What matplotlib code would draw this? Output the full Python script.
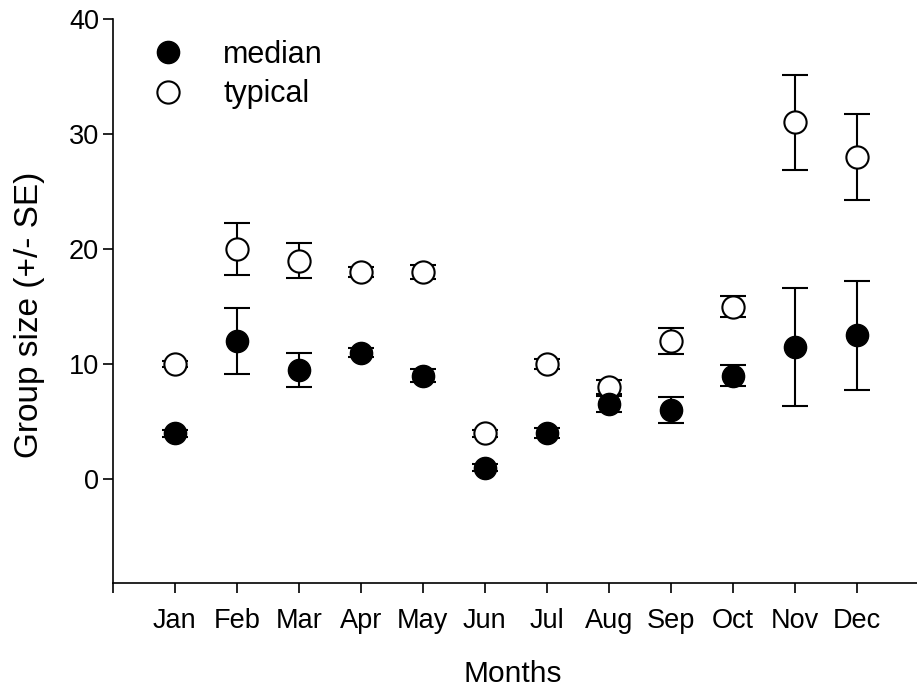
import matplotlib.pyplot as plt
import numpy as np

plt.rcParams['font.family'] = ['Liberation Sans', 'DejaVu Sans']

months = ['Jan', 'Feb', 'Mar', 'Apr', 'May', 'Jun', 'Jul', 'Aug', 'Sep', 'Oct', 'Nov', 'Dec']
median = [4, 12, 9.5, 11, 9, 1, 4, 6.5, 6, 9, 11.5, 12.5]
median_se = [0.3, 2.9, 1.5, 0.4, 0.6, 0.3, 0.4, 0.7, 1.15, 0.95, 5.15, 4.75]
typical = [10, 20, 19, 18, 18, 4, 10, 8, 12, 15, 31, 28]
typical_se = [0.3, 2.3, 1.5, 0.4, 0.6, 0.3, 0.4, 0.6, 1.15, 0.9, 4.1, 3.75]

x = np.arange(1, len(months) + 1)

fig = plt.figure(figsize=(9.17, 6.9), dpi=100)
ax = fig.add_axes([0.123, 0.155, 0.877, 0.8175])

t = ax.errorbar(x, typical, yerr=typical_se, fmt='o', ms=16, mfc='white', mec='black',
                mew=1.5, ecolor='black', elinewidth=1.5, capsize=9.5, capthick=1.5,
                color='black', label='typical')
m = ax.errorbar(x, median, yerr=median_se, fmt='o', ms=16, mfc='black', mec='black',
                ecolor='black', elinewidth=1.5, capsize=9.5, capthick=1.5,
                color='black', label='median')

ax.set_xlim(0, 12.97)
ax.set_ylim(-9.04, 40)
ax.set_xticks(np.arange(0, 13))
ax.set_xticklabels([''] + months)
ax.set_yticks([0, 10, 20, 30, 40])
ax.spines['top'].set_visible(False)
ax.spines['right'].set_visible(False)
for s in ['left', 'bottom']:
    ax.spines[s].set_linewidth(1.2)
ax.tick_params(direction='out', length=7, width=1.2, labelsize=19.5)
ax.tick_params(axis='x', pad=11)
ax.tick_params(axis='y', pad=3)

ax.set_xlabel('Months', fontsize=21.5)
ax.set_ylabel('Group size (+/- SE)', fontsize=24)
ax.xaxis.set_label_coords(0.4975, -0.136)
ax.yaxis.set_label_coords(-0.084, 0.475)

ax.legend([m[0], t[0]], ['median', 'typical'], loc='upper left', frameon=False,
          fontsize=22, bbox_to_anchor=(0.008, 0.995), handletextpad=0.8,
          labelspacing=0.3, borderaxespad=0.2)

fig.savefig('out.png', dpi=100)
